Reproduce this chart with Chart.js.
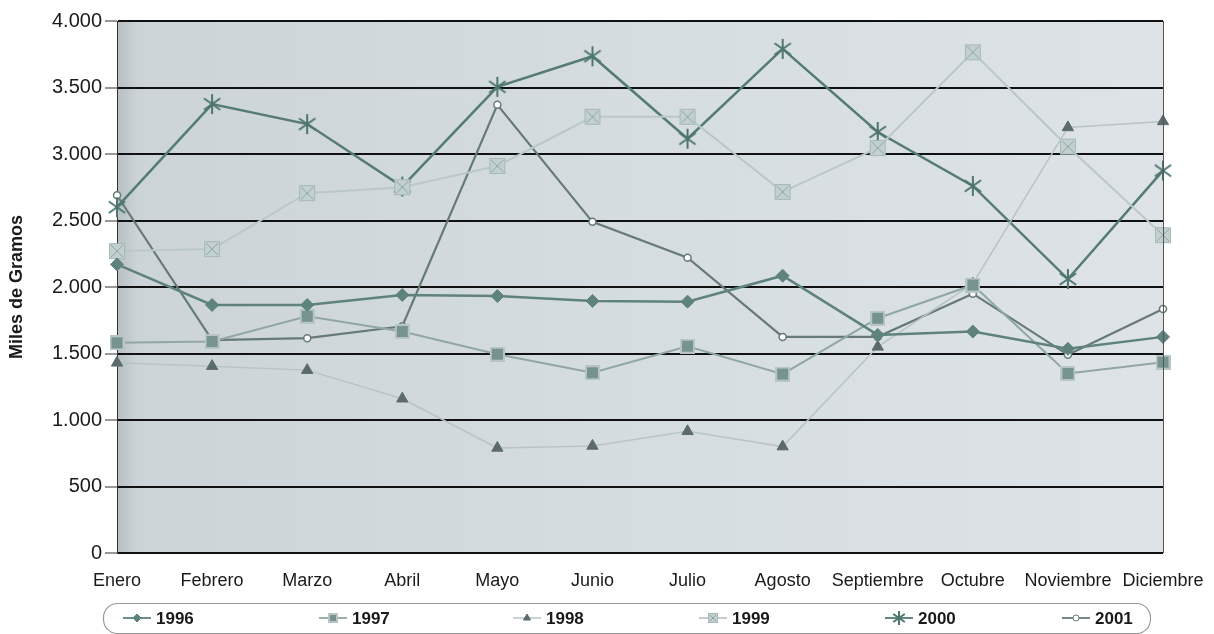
<!DOCTYPE html>
<html>
<head>
<meta charset="utf-8">
<script src="https://cdn.jsdelivr.net/npm/chart.js@4.4.1/dist/chart.umd.min.js"></script>
<style>
  html, body { margin: 0; padding: 0; background: #fff; }
  #wrap { width: 1214px; height: 634px; }
</style>
</head>
<body>
<div id="wrap"><canvas id="chart" width="1214" height="634"></canvas></div>
<script>
// datos (miles de gramos)
const months = ['Enero', 'Febrero', 'Marzo', 'Abril', 'Mayo', 'Junio', 'Julio', 'Agosto', 'Septiembre', 'Octubre', 'Noviembre', 'Diciembre'];
const years = ['1996', '1997', '1998', '1999', '2000', '2001'];
const y1996 = [2170, 1865, 1865, 1940, 1932, 1895, 1890, 2085, 1640, 1665, 1535, 1625];
const y1997 = [1580, 1590, 1780, 1665, 1495, 1355, 1555, 1345, 1765, 2015, 1350, 1435];
const y1998 = [1430, 1405, 1375, 1160, 790, 805, 915, 800, 1550, 2025, 3200, 3245];
const y1999 = [2270, 2285, 2705, 2750, 2910, 3280, 3280, 2715, 3045, 3765, 3055, 2390];
const y2000 = [2600, 3375, 3225, 2755, 3505, 3735, 3115, 3790, 3165, 2760, 2060, 2875];
const y2001 = [2690, 1600, 1615, 1705, 3370, 2490, 2220, 1625, 1625, 1950, 1490, 1835];
const yTicks = [0, 500, 1000, 1500, 2000, 2500, 3000, 3500, 4000];

// marcadores propios (asterisco y cuadrados)
function makeAsterisk(size) {
  const c = document.createElement('canvas');
  c.width = size; c.height = size;
  const g = c.getContext('2d');
  const r0 = size / 2 - 2;
  g.strokeStyle = '#4d766f';
  g.lineWidth = size > 16 ? 2 : 1.6;
  g.translate(size / 2, size / 2);
  [90, 35, 145].forEach(a => {
    const r = a * Math.PI / 180;
    g.beginPath();
    g.moveTo(-Math.cos(r) * r0, -Math.sin(r) * r0);
    g.lineTo(Math.cos(r) * r0, Math.sin(r) * r0);
    g.stroke();
  });
  return c;
}

function makeXSquare(size) {
  const c = document.createElement('canvas');
  c.width = size; c.height = size;
  const g = c.getContext('2d');
  g.fillStyle = '#c2d0cf';
  g.fillRect(1, 1, size - 2, size - 2);
  g.strokeStyle = '#a6b9b7';
  g.lineWidth = 1;
  g.strokeRect(1.5, 1.5, size - 3, size - 3);
  g.strokeStyle = '#8fa6a3';
  g.beginPath();
  g.moveTo(3, 3); g.lineTo(size - 3, size - 3);
  g.moveTo(size - 3, 3); g.lineTo(3, size - 3);
  g.stroke();
  return c;
}

function makeSquare(size) {
  const c = document.createElement('canvas');
  c.width = size; c.height = size;
  const g = c.getContext('2d');
  g.fillStyle = '#b7c6c4';
  g.fillRect(0, 0, size, size);
  g.fillStyle = '#76938f';
  g.fillRect(2, 2, size - 4, size - 4);
  return c;
}

const asterisk = makeAsterisk(24);
const xSquare = makeXSquare(18);
const square = makeSquare(15);
// versiones pequeñas para la leyenda
const legendMarks = [null, makeSquare(10), null, makeXSquare(12), makeAsterisk(18), null];

function fmt(v) {
  return String(v).replace(/\B(?=(\d{3})+(?!\d))/g, '.');
}

const datasets = [
  { label: years[0], data: y1996, borderColor: '#5e827d', borderWidth: 2.5, pointStyle: 'rectRot', pointRadius: 6.5, pointBackgroundColor: '#5e827d', pointBorderColor: '#5e827d', pointBorderWidth: 1 },
  { label: years[1], data: y1997, borderColor: '#90a7a3', borderWidth: 2, pointStyle: square, pointRadius: 7, pointBackgroundColor: '#76938f', pointBorderColor: '#76938f' },
  { label: years[2], data: y1998, borderColor: '#b8c4c5', borderWidth: 1.5, pointStyle: 'triangle', pointRadius: 6.5, pointBackgroundColor: '#5b6a6c', pointBorderColor: '#5b6a6c', pointBorderWidth: 1 },
  { label: years[3], data: y1999, borderColor: '#bac8c8', borderWidth: 2, pointStyle: xSquare, pointRadius: 8, pointBackgroundColor: '#c2d0cf', pointBorderColor: '#a6b9b7' },
  { label: years[4], data: y2000, borderColor: '#557b75', borderWidth: 2.5, pointStyle: asterisk, pointRadius: 10, pointBackgroundColor: '#4d766f', pointBorderColor: '#4d766f' },
  { label: years[5], data: y2001, borderColor: '#667a77', borderWidth: 2.2, pointStyle: 'circle', pointRadius: 3.5, pointBackgroundColor: '#ffffff', pointBorderColor: '#667a77', pointBorderWidth: 1.5 }
];
datasets.forEach(d => {
  d.tension = 0;
  d.fill = false;
  d.clip = false;
  d.pointHoverRadius = d.pointRadius;
});

// fondo gris azulado del área de trazado
const plotBg = {
  id: 'plotBg',
  beforeDraw(chart) {
    const { ctx, chartArea: { left, top, right, bottom } } = chart;
    ctx.save();
    const grad = ctx.createLinearGradient(left, 0, right, 0);
    grad.addColorStop(0, '#b7bfc3');
    grad.addColorStop(0.02, '#ccd4d8');
    grad.addColorStop(0.5, '#d6dde1');
    grad.addColorStop(1, '#dde3e6');
    ctx.fillStyle = grad;
    ctx.fillRect(left, top, right - left, bottom - top);
    ctx.restore();
  },
  afterDraw(chart) {
    const { ctx, chartArea: { top, right, bottom } } = chart;
    ctx.save();
    ctx.strokeStyle = '#555';
    ctx.lineWidth = 1;
    ctx.beginPath();
    ctx.moveTo(right + 0.5, top);
    ctx.lineTo(right + 0.5, bottom);
    ctx.stroke();
    ctx.restore();
  }
};

// leyenda con línea y marcador, en un recuadro redondeado
const boxLegend = {
  id: 'boxLegend',
  afterDraw(chart) {
    const ctx = chart.ctx;
    const bx = 103, by = 603, bw = 1047, bh = 30;
    ctx.save();
    ctx.strokeStyle = '#9a9a9a';
    ctx.lineWidth = 1.2;
    ctx.beginPath();
    ctx.roundRect(bx + 0.5, by + 0.5, bw, bh, 14);
    ctx.stroke();

    const markX = [137, 333, 527, 713, 899, 1076];
    const cy = by + bh / 2;
    chart.data.datasets.forEach((ds, i) => {
      const mx = markX[i];
      ctx.strokeStyle = ds.borderColor;
      ctx.lineWidth = Math.min(ds.borderWidth, 1.8);
      ctx.beginPath();
      ctx.moveTo(mx - 14, cy);
      ctx.lineTo(mx + 14, cy);
      ctx.stroke();
      ctx.fillStyle = ds.pointBackgroundColor;
      ctx.strokeStyle = ds.pointBorderColor;
      ctx.lineWidth = 1;
      Chart.helpers.drawPoint(ctx, {
        pointStyle: legendMarks[i] || ds.pointStyle,
        radius: i === 5 ? 3 : 4,
        rotation: 0,
        borderWidth: ds.pointBorderWidth || 0
      }, mx, cy);
      ctx.fillStyle = '#1a1a1a';
      ctx.font = 'bold 17px "Liberation Sans", Arial, sans-serif';
      ctx.textAlign = 'left';
      ctx.textBaseline = 'middle';
      ctx.fillText(ds.label, mx + 19, cy + 1);
    });
    ctx.restore();
  }
};

new Chart(document.getElementById('chart'), {
  type: 'line',
  data: { labels: months, datasets },
  options: {
    responsive: false,
    devicePixelRatio: 1,
    animation: false,
    layout: { padding: { top: 21, right: 51, bottom: 41, left: 0 } },
    plugins: {
      legend: { display: false },
      tooltip: { enabled: false }
    },
    scales: {
      x: {
        offset: false,
        grid: { display: false },
        border: { display: false },
        ticks: {
          color: '#1a1a1a',
          padding: 9,
          maxRotation: 0,
          autoSkip: false,
          font: { family: '"Liberation Sans", Arial, sans-serif', size: 18 }
        },
        afterFit(scale) { scale.height = 40; }
      },
      y: {
        min: 0,
        max: 4000,
        afterBuildTicks(scale) { scale.ticks = yTicks.map(v => ({ value: v })); },
        grid: { color: '#111', lineWidth: 2, tickLength: 12, tickColor: '#333', tickWidth: 1 },
        border: { display: true, color: '#333', width: 1 },
        ticks: {
          color: '#1a1a1a',
          padding: 3,
          callback: v => fmt(v),
          font: { family: '"Liberation Sans", Arial, sans-serif', size: 20 }
        },
        title: {
          display: true,
          text: 'Miles de Gramos',
          color: '#1a1a1a',
          padding: { top: 6, bottom: 0 },
          font: { family: '"Liberation Sans", Arial, sans-serif', size: 18, weight: 'bold' }
        },
        afterFit(scale) { scale.width = 117; }
      }
    }
  },
  plugins: [plotBg, boxLegend]
});
</script>
</body>
</html>
